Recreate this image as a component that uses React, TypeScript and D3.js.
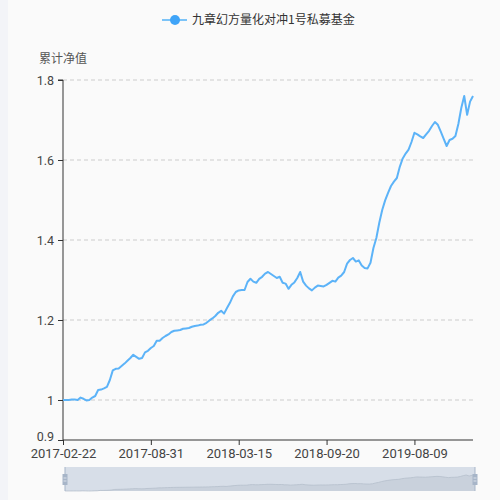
import React, { useEffect, useRef } from 'react';
import * as d3 from 'd3';

const seriesName = '九章幻方量化对冲1号私募基金';
const yAxisName = '累计净值';

// every 30th category carries a label
const xTickLabels = ['2017-02-22', '2017-08-31', '2018-03-15', '2018-09-20', '2019-08-09'];
const labelInterval = 30;

const yTicks = [0.9, 1, 1.2, 1.4, 1.6, 1.8];

const navValues = [
  1.0, 1.0, 1.0, 1.001, 1.001, 1.0, 1.006, 1.003, 0.999, 1.0,
  1.006, 1.01, 1.025, 1.026, 1.029, 1.033, 1.05, 1.074, 1.078, 1.079,
  1.085, 1.091, 1.098, 1.105, 1.113, 1.108, 1.103, 1.105, 1.119, 1.123,
  1.13, 1.135, 1.148, 1.148, 1.155, 1.16, 1.164, 1.17, 1.173, 1.174,
  1.175, 1.178, 1.179, 1.18, 1.183, 1.185, 1.186, 1.188, 1.189, 1.193,
  1.199, 1.204, 1.21, 1.218, 1.223, 1.216, 1.23, 1.243, 1.259, 1.27,
  1.274, 1.275, 1.275, 1.295, 1.303, 1.296, 1.293, 1.303, 1.308, 1.316,
  1.32, 1.315, 1.31, 1.305, 1.308, 1.293, 1.291, 1.278, 1.288, 1.294,
  1.305, 1.32, 1.296, 1.286, 1.279, 1.274, 1.281, 1.286, 1.285, 1.284,
  1.288, 1.293, 1.298, 1.296, 1.306, 1.311, 1.32, 1.341, 1.35, 1.355,
  1.346, 1.349, 1.336, 1.33, 1.329, 1.343, 1.38, 1.405, 1.443, 1.475,
  1.499, 1.518, 1.535, 1.546, 1.555, 1.583, 1.604, 1.616, 1.626, 1.645,
  1.668, 1.664, 1.659, 1.655, 1.664, 1.673, 1.685, 1.695, 1.688, 1.671,
  1.653, 1.635, 1.65, 1.653, 1.66, 1.69, 1.73, 1.76, 1.713, 1.746,
  1.76,
];

const lineColor = '#5cb3f8';
const font = '"Noto Sans CJK SC", "Noto Sans", sans-serif';
const numFont = 'Roboto, "Liberation Sans", sans-serif';

const App = () => {
  const ref = useRef<SVGSVGElement>(null);

  useEffect(() => {
    document.body.style.margin = '0';
    const svg = d3.select(ref.current);
    svg.selectAll('*').remove();

    const width = 500;
    const height = 500;
    const margin = { top: 80, right: 27, bottom: 60, left: 63 };

    svg.append('rect').attr('width', width).attr('height', height).attr('fill', '#fafafa');
    svg.append('rect').attr('width', 8).attr('height', height).attr('fill', '#f3f4f8');

    const x = d3
      .scaleLinear()
      .domain([0, navValues.length - 1])
      .range([margin.left, width - margin.right]);
    const y = d3
      .scaleLinear()
      .domain([0.9, 1.8])
      .range([height - margin.bottom, margin.top]);

    // grid
    svg
      .append('g')
      .selectAll('line')
      .data(yTicks.filter((t) => t > 0.9))
      .join('line')
      .attr('x1', margin.left)
      .attr('x2', width - margin.right)
      .attr('y1', (d) => y(d))
      .attr('y2', (d) => y(d))
      .attr('stroke', '#cccccc')
      .attr('stroke-dasharray', '4 3');

    // y axis
    const yAxis = svg
      .append('g')
      .attr('transform', `translate(${margin.left},0)`)
      .call(
        d3
          .axisLeft(y)
          .tickValues(yTicks)
          .tickSize(5)
          .tickPadding(4)
          .tickFormat((d) => String(d)),
      );
    yAxis.select('.domain').attr('stroke', '#333').attr('d', `M-5,${y(1.8)}H0V${y(0.9)}`);
    yAxis.selectAll('line').attr('stroke', '#333');
    yAxis
      .selectAll('text')
      .attr('fill', '#444')
      .attr('font-size', 12.5)
      .attr('font-family', numFont)
      .attr('y', (d) => (d === 0.9 ? -4 : 0));

    // x axis
    const xAxis = svg
      .append('g')
      .attr('transform', `translate(0,${height - margin.bottom})`)
      .call(
        d3
          .axisBottom(x)
          .tickValues(xTickLabels.map((_, i) => i * labelInterval))
          .tickSize(5)
          .tickPadding(4)
          .tickFormat((_, i) => xTickLabels[i]),
      );
    xAxis.select('.domain').attr('stroke', '#333').attr('d', `M${margin.left},0H${width - margin.right}`);
    xAxis.selectAll('line').attr('stroke', '#333');
    xAxis
      .selectAll('text')
      .attr('fill', '#444')
      .attr('font-size', 13)
      .attr('font-family', numFont);

    svg
      .append('text')
      .attr('x', margin.left)
      .attr('y', 63)
      .attr('text-anchor', 'middle')
      .attr('font-size', 12)
      .attr('font-family', font)
      .attr('fill', '#555')
      .text(yAxisName);

    // series
    const line = d3
      .line<number>()
      .x((_, i) => x(i))
      .y((d) => y(d));
    svg
      .append('path')
      .datum(navValues)
      .attr('d', line)
      .attr('fill', 'none')
      .attr('stroke', lineColor)
      .attr('stroke-width', 2)
      .attr('stroke-linejoin', 'round');

    // legend
    const legend = svg.append('g').attr('transform', 'translate(162,20)');
    legend
      .append('line')
      .attr('x1', 0)
      .attr('x2', 25)
      .attr('stroke', '#7cc4f8')
      .attr('stroke-width', 2);
    legend.append('circle').attr('cx', 13).attr('r', 5).attr('fill', '#3fa4f8');
    legend
      .append('text')
      .attr('x', 30)
      .attr('dy', '0.35em')
      .attr('font-size', 12)
      .attr('font-family', font)
      .attr('fill', '#333')
      .text(seriesName);

    // data zoom slider
    const zTop = 467;
    const zH = 24;
    const zx = d3
      .scaleLinear()
      .domain([0, navValues.length - 1])
      .range([65, 475]);
    const zy = d3
      .scaleLinear()
      .domain(d3.extent(navValues) as [number, number])
      .range([zTop + zH, zTop + 8]);
    const zoom = svg.append('g');
    zoom
      .append('rect')
      .attr('x', 65)
      .attr('y', zTop)
      .attr('width', 410)
      .attr('height', zH)
      .attr('fill', '#d7dee8');
    zoom
      .append('path')
      .datum(navValues)
      .attr(
        'd',
        d3
          .area<number>()
          .x((_, i) => zx(i))
          .y0(zTop + zH)
          .y1((d) => zy(d)),
      )
      .attr('fill', '#c9d1dc');
    zoom
      .append('path')
      .datum(navValues)
      .attr(
        'd',
        d3
          .line<number>()
          .x((_, i) => zx(i))
          .y((d) => zy(d)),
      )
      .attr('fill', 'none')
      .attr('stroke', '#b5bfcc')
      .attr('stroke-width', 0.8);
    [65, 475].forEach((hx) => {
      zoom
        .append('line')
        .attr('x1', hx)
        .attr('x2', hx)
        .attr('y1', zTop)
        .attr('y2', zTop + zH)
        .attr('stroke', '#a7b5c8')
        .attr('stroke-width', 1);
      zoom
        .append('rect')
        .attr('x', hx - 2.5)
        .attr('y', zTop + 7)
        .attr('width', 5)
        .attr('height', 11)
        .attr('fill', '#a7b5c8');
      [11, 14].forEach((dy) =>
        zoom
          .append('line')
          .attr('x1', hx - 1.5)
          .attr('x2', hx + 1.5)
          .attr('y1', zTop + dy)
          .attr('y2', zTop + dy)
          .attr('stroke', '#e8edf3')
          .attr('stroke-width', 0.8),
      );
    });
  }, []);

  return (
    <svg
      ref={ref}
      width={500}
      height={500}
      style={{ position: 'absolute', left: 0, top: 0, display: 'block' }}
    />
  );
};

export default App;
